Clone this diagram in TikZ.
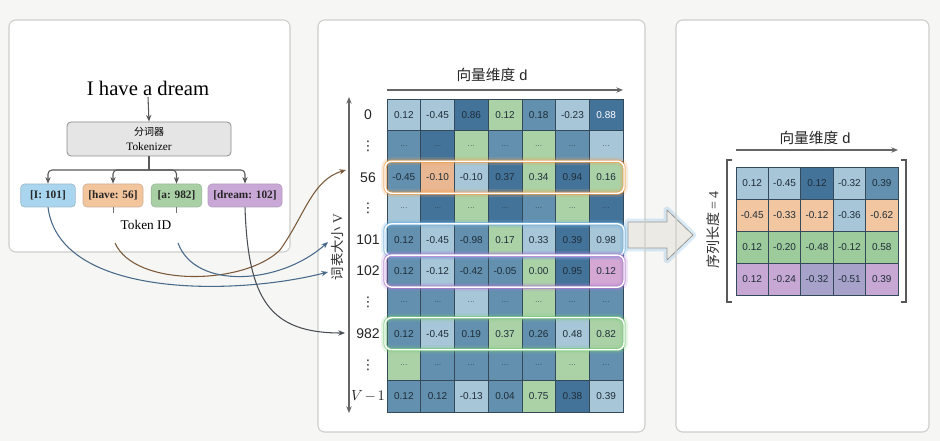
\documentclass[tikz,border=0pt]{standalone}
\usepackage{fontspec}
\setmainfont{Liberation Serif}
\setsansfont{Liberation Sans}
\newfontfamily\cjk{Noto Sans CJK SC}
\newfontfamily\symf{DejaVu Sans}
\usetikzlibrary{arrows.meta,calc}

\definecolor{bgc}{HTML}{F6F6F4}
\definecolor{panelline}{HTML}{CDCDCA}
\definecolor{LB}{HTML}{A7C6D8}
\definecolor{MB}{HTML}{6290AE}
\definecolor{DB}{HTML}{44739A}
\definecolor{GR}{HTML}{ABD2A7}
\definecolor{OR}{HTML}{E9B791}
\definecolor{PK}{HTML}{D4A8D3}
\definecolor{ROR}{HTML}{F2C6A0}
\definecolor{RGR}{HTML}{9ECB9C}
\definecolor{RPU}{HTML}{C7A7D4}
\definecolor{RBP}{HTML}{A6A2C9}
\definecolor{tokI}{HTML}{A9D5EF}
\definecolor{tokHave}{HTML}{F3C59C}
\definecolor{tokA}{HTML}{A9D0A5}
\definecolor{tokDream}{HTML}{C9A7D7}
\definecolor{cellline}{HTML}{34495A}
\definecolor{celltext}{HTML}{1F2D38}
\definecolor{brownarr}{HTML}{7A5A3A}
\definecolor{bluearr}{HTML}{48698A}
\definecolor{greyarr}{HTML}{4A4F55}
\definecolor{hlOrange}{HTML}{F0A050}
\definecolor{hlBlue}{HTML}{6FB0E0}
\definecolor{hlPurple}{HTML}{B07AD0}
\definecolor{hlGreen}{HTML}{7ACC7A}
\definecolor{arrowfill}{HTML}{ECEAE4}

\tikzset{
  panel/.style={rounded corners=5pt},
  arr/.style={-{Stealth[length=5pt,width=4pt]}, draw=black!65, line width=0.8pt},
  tokbox/.style={draw=black!45, fill=black!10, rounded corners=3pt, line width=0.6pt,
    minimum width=123pt, minimum height=25.5pt, align=center, inner sep=1pt},
  idbox/.style={rounded corners=3pt, line width=0.5pt, minimum height=17.25pt,
    inner sep=1pt, font=\fontsize{8.5}{10}\bfseries\selectfont, text=black!85},
  cell/.style={draw=cellline, line width=0.5pt, minimum width=25.29pt,
    minimum height=23.475pt, inner sep=0pt, text=celltext,
    font=\sffamily\fontsize{7.5}{8}\selectfont},
  rcell/.style={cell, minimum width=24.3pt, minimum height=24pt},
  rlab/.style={font=\sffamily\fontsize{10.5}{12}\selectfont, text=black!85, inner sep=0.5pt},
  curve/.style={-{Stealth[length=5pt,width=4pt]}, line width=0.8pt},
  axis/.style={draw=black!60, line width=0.8pt},
  axlab/.style={font=\sffamily\fontsize{11}{13}\selectfont, text=black!85},
}

\newcommand\celldots{{\fontsize{5}{6}\selectfont .\kern0.4pt.\kern0.4pt.}}
\newcommand\rowdots{{\symf\fontsize{10}{10}\selectfont ⋮}}
\newcommand\matrow[2]{%
  \foreach \cc/\vv [count=\c from 0] in {#2}{%
    \node[cell, fill=\cc] (m#1-\c) at ({387+33.714*(\c+0.5)},{99+31.3*(#1+0.5)}) {\vv};}}
\newcommand\resrow[2]{%
  \foreach \cc/\vv [count=\c from 0] in {#2}{%
    \node[rcell, fill=\cc] (r#1-\c) at ({736+32.4*(\c+0.5)},{167+32*(#1+0.5)}) {\vv};}}
\newcommand\glowbox[2]{% colour, row index
  \pgfmathsetmacro\yc{99+31.3*(#2+0.5)}
  \draw[rounded corners=5pt, line width=6pt, draw=#1, draw opacity=0.18]
    (385,\yc-16) rectangle (624,\yc+16);
  \draw[rounded corners=5pt, line width=2.6pt, draw=#1, draw opacity=0.7]
    (385,\yc-16) rectangle (624,\yc+16);
  \draw[rounded corners=5pt, line width=1.1pt, draw=white]
    (385,\yc-16) rectangle (624,\yc+16);}

\begin{document}
\begin{tikzpicture}[x=0.75pt,y=-0.75pt]
\fill[bgc] (0,0) rectangle (940,441);
\useasboundingbox (0,0) rectangle (940,441);

% panel backgrounds
\fill[white, panel] (9,20) rectangle (290,252);
\fill[white, panel] (318,20) rectangle (645,432);
\fill[white, panel] (676,20) rectangle (929,432);

% block arrow between the two matrices
\path[draw=hlBlue, draw opacity=0.25, line width=5pt, line join=round]
  (628,222) -- (667,222) -- (667,210) -- (693,235) -- (667,260) -- (667,248) -- (628,248) -- cycle;
\path[fill=arrowfill, draw=black!40, line width=0.6pt, line join=round]
  (628,222) -- (667,222) -- (667,210) -- (693,235) -- (667,260) -- (667,248) -- (628,248) -- cycle;

% panel frames
\draw[panelline, panel, line width=0.8pt] (9,20) rectangle (290,252);
\draw[panelline, panel, line width=0.8pt] (318,20) rectangle (645,432);
\draw[panelline, panel, line width=0.8pt] (676,20) rectangle (929,432);

% ---------- tokenisation ----------
\node[font=\fontsize{15.5}{17}\selectfont, inner sep=1pt] (sent) at (148,88) {I have a dream};
\node[tokbox] (tok) at (149,139)
  {{\cjk\fontsize{7.5}{9}\selectfont 分词器}\\[-1pt]{\fontsize{8.5}{10}\selectfont Tokenizer}};
\draw[arr] (sent.south) -- (tok.north);

\node[idbox, fill=tokI, draw=tokI!80!black!80, minimum width=41pt] (bI) at (48,195.5) {[I: 101]};
\node[idbox, fill=tokHave, draw=tokHave!80!black!80, minimum width=45pt] (bHave) at (113,195.5) {[have: 56]};
\node[idbox, fill=tokA, draw=tokA!80!black!80, minimum width=38pt] (bA) at (176.5,195.5) {[a: 982]};
\node[idbox, fill=tokDream, draw=tokDream!80!black!80, minimum width=55.5pt] (bDream) at (245,195.5) {[dream: 102]};

\coordinate (br) at (149,170);
\draw[draw=black!65, line width=0.8pt] (tok.south) -- (br);
\foreach \b in {bI,bHave,bA,bDream}
  \draw[arr, rounded corners=3pt] (br) -| (\b.north);

\node[font=\fontsize{10}{12}\selectfont] (tid) at (146,225) {Token ID};
\draw[black!55, line width=0.6pt] (bHave.south) -- ++(0,6);
\draw[black!55, line width=0.6pt] (bA.south) -- ++(0,6);

% ---------- embedding table ----------
\node[axlab] (dlab) at (492,75) {{\cjk 向量维度} d};
\coordinate (dx0) at (387,90);
\coordinate (dx1) at (623,90);
\draw[axis, -{Stealth[length=5pt,width=4pt]}] (dx0) -- (dx1);

\coordinate (vtop) at (349,97);
\coordinate (vbot) at (349,413);
\draw[axis, {Stealth[length=5pt,width=4pt]}-{Stealth[length=5pt,width=4pt]}] (vtop) -- (vbot);
\node[rotate=90, font=\fontsize{10}{12}\selectfont, text=black!80] (vlab) at (337,247) {{\cjk 词表大小} V};

\foreach \i/\t in {0/0, 1/\rowdots, 2/56, 3/\rowdots, 4/101, 5/102, 6/\rowdots, 7/982, 8/\rowdots, 9/{$V\mkern2mu{-}\mkern2mu1$}}
  \node[rlab] (rl\i) at (368,{99+31.3*(\i+0.5)}) {\t};

\matrow{0}{LB/0.12, LB/-0.45, DB/0.86, GR/0.12, MB/0.18, LB/-0.23, DB/{\color{white}0.88}}
\matrow{1}{MB/\celldots, DB/\celldots, GR/\celldots, MB/\celldots, GR/\celldots, MB/\celldots, LB/\celldots}
\matrow{2}{MB/-0.45, OR/-0.10, LB/-0.10, DB/0.37, GR/0.34, DB/0.94, GR/0.16}
\matrow{3}{LB/\celldots, DB/\celldots, GR/\celldots, DB/\celldots, MB/\celldots, GR/\celldots, DB/\celldots}
\matrow{4}{MB/0.12, LB/-0.45, MB/-0.98, GR/0.17, LB/0.33, DB/0.39, LB/0.98}
\matrow{5}{MB/0.12, LB/-0.12, MB/-0.42, MB/-0.05, GR/0.00, DB/0.95, PK/0.12}
\matrow{6}{MB/\celldots, MB/\celldots, LB/\celldots, MB/\celldots, GR/\celldots, MB/\celldots, MB/\celldots}
\matrow{7}{MB/0.12, LB/-0.45, MB/0.19, GR/0.37, MB/0.26, LB/0.48, GR/0.82}
\matrow{8}{GR/\celldots, MB/\celldots, MB/\celldots, MB/\celldots, MB/\celldots, GR/\celldots, MB/\celldots}
\matrow{9}{MB/0.12, MB/0.12, LB/-0.13, MB/0.04, GR/0.75, DB/0.38, LB/0.39}

\glowbox{hlOrange}{2}
\glowbox{hlBlue}{4}
\glowbox{hlPurple}{5}
\glowbox{hlGreen}{7}

% lookup connectors
\coordinate (hv0) at (115,243);
\coordinate (a0) at (178,243);
\coordinate (t56) at (346,170);
\coordinate (t101) at (328,242);
\coordinate (t102) at (328,272);
\coordinate (t982) at (345,333);
\draw[curve, brownarr] (hv0) .. controls (135,288) and (245,285) .. (280,250)
  .. controls (305,215) and (312,180) .. (t56);
\draw[curve, bluearr] (bI.south) .. controls (60,300) and (240,295) .. (t102);
\draw[curve, bluearr] (a0) .. controls (195,290) and (280,285) .. (t101);
\draw[curve, greyarr] (bDream.south) .. controls (248,300) and (270,333) .. (t982);

% ---------- sequence matrix ----------
\node[axlab] (dlab2) at (815,138) {{\cjk 向量维度} d};
\coordinate (ex0) at (736,150);
\coordinate (ex1) at (898,150);
\draw[axis, -{Stealth[length=5pt,width=4pt]}] (ex0) -- (ex1);
\node[rotate=90, font=\fontsize{10.5}{12}\selectfont, text=black!80] (slab) at (713,230) {{\cjk 序列长度} = 4};

\resrow{0}{LB/0.12, LB/-0.45, DB/0.12, LB/-0.32, MB/0.39}
\resrow{1}{ROR/-0.45, ROR/-0.33, ROR/-0.12, LB/-0.36, ROR/-0.62}
\resrow{2}{RGR/0.12, RGR/-0.20, RGR/-0.48, RGR/-0.12, RGR/0.58}
\resrow{3}{RPU/0.12, RPU/-0.24, RBP/-0.32, RBP/-0.51, RPU/0.39}

\draw[black!65, line width=0.9pt] (732,160) -- (727,160) -- (727,302) -- (732,302);
\draw[black!65, line width=0.9pt] (901,160) -- (906,160) -- (906,302) -- (901,302);
\end{tikzpicture}
\end{document}
